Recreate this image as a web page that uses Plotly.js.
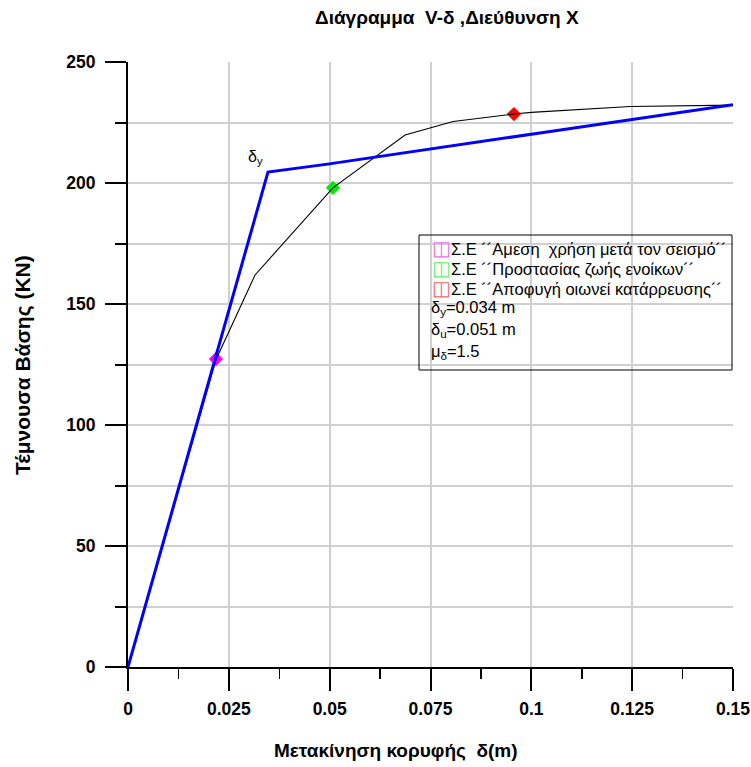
<!DOCTYPE html>
<html>
<head>
<meta charset="utf-8">
<script src="https://cdn.plot.ly/plotly-3.0.1.min.js"></script>
<style>html,body{margin:0;padding:0;background:#fff;}#chart{width:751px;height:767px;}</style>
</head>
<body>
<div id="chart"></div>
<script>
// Bilinear idealisation (blue)
const bilinearX = [0, 0.0347, 0.0495, 0.0515, 0.1, 0.1034, 0.15];
const bilinearY = [0, 204.5, 207.8, 208.3, 220.3, 221.0, 232.3];
// Pushover curve (black)
const pushoverX = [0, 0.0218, 0.0315, 0.0508, 0.0687, 0.0806, 0.0957, 0.1, 0.1245, 0.15];
const pushoverY = [0, 127.0, 162.0, 198.0, 219.8, 225.4, 228.5, 229.2, 231.6, 232.2];
// Performance levels
const levelNames = ["Σ.Ε ´´Αμεση  χρήση μετά τον σεισμό´´", "Σ.Ε ´´Προστασίας ζωής ενοίκων´´", "Σ.Ε ´´Αποφυγή οιωνεί κατάρρευσης´´"];
const levelX = [0.0218, 0.0508, 0.0957];
const levelY = [127.3, 198.0, 228.5];
const levelColors = ["#ff00ff", "#00ee00", "#ff0000"];
const iconColors = ["#f070f0", "#66ee66", "#f06a6a"];
const infoLines = ["δ<sub>y</sub>=0.034 m", "δ<sub>u</sub>=0.051 m", "μ<sub>δ</sub>=1.5"];
const xTickVals = [0, 0.025, 0.05, 0.075, 0.1, 0.125, 0.15];
const xTickText = ["0", "0.025", "0.05", "0.075", "0.1", "0.125", "0.15"];
const yTickVals = [0, 50, 100, 150, 200, 250];
const yTickText = ["0", "50", "100", "150", "200", "250"];

const FONT = "Liberation Sans, Arial, sans-serif";
const W = 751, H = 767, L = 128, R = 18, T = 62, B = 100;
const pw = W - L - R, ph = H - T - B;
const px = p => (p - L) / pw;
const py = p => (H - B - p) / ph;

const traces = [];
for (let i = 0; i < levelX.length; i++) {
  traces.push({x: [levelX[i]], y: [levelY[i]], type: "scatter", mode: "markers",
    marker: {symbol: "diamond", size: 11, color: levelColors[i]}, showlegend: false, hoverinfo: "skip"});
}
traces.push({x: pushoverX, y: pushoverY, type: "scatter", mode: "lines",
  line: {color: "#000000", width: 1.1}, showlegend: false});
traces.push({x: bilinearX, y: bilinearY, type: "scatter", mode: "lines",
  line: {color: "#0000ff", width: 3}, showlegend: false});

const annotations = [
  {text: "<b>Διάγραμμα  V-δ ,Διεύθυνση X</b>", xref: "paper", yref: "paper", x: px(447), y: py(18),
   xanchor: "center", yanchor: "middle", showarrow: false, font: {family: FONT, size: 19, color: "#000"}},
  {text: "<b>Μετακίνηση κορυφής  δ(m)</b>", xref: "paper", yref: "paper", x: px(396), y: py(750),
   xanchor: "center", yanchor: "middle", showarrow: false, font: {family: FONT, size: 19, color: "#000"}},
  {text: "<b>Τέμνουσα Βάσης (KN)</b>", xref: "paper", yref: "paper", x: px(23), y: py(365),
   xanchor: "center", yanchor: "middle", showarrow: false, textangle: -90, font: {family: FONT, size: 21, color: "#000"}},
  {text: "δ<sub>y</sub>", xref: "x", yref: "y", x: 0.0316, y: 210.5,
   xanchor: "center", yanchor: "middle", showarrow: false, font: {family: FONT, size: 16, color: "#000"}}
];
const lineY = [248, 268, 288, 308, 330, 352];
for (let i = 0; i < levelNames.length; i++) {
  annotations.push({text: "<span style='color:" + iconColors[i] + ";font-size:20px'>◫</span>" + levelNames[i],
    xref: "paper", yref: "paper", x: px(430), y: py(lineY[i]), xanchor: "left", yanchor: "middle",
    showarrow: false, font: {family: FONT, size: 16.5, color: "#000"}});
}
for (let j = 0; j < infoLines.length; j++) {
  annotations.push({text: infoLines[j], xref: "paper", yref: "paper", x: px(429), y: py(lineY[3 + j]),
    xanchor: "left", yanchor: "middle", showarrow: false, font: {family: FONT, size: 16.5, color: "#000"}});
}

const layout = {
  width: W, height: H,
  margin: {l: L, r: R, t: T, b: B, pad: 0},
  paper_bgcolor: "#fff", plot_bgcolor: "#fff",
  showlegend: false,
  font: {family: FONT, color: "#000"},
  xaxis: {range: [0, 0.15], tickvals: xTickVals, ticktext: xTickText,
    showgrid: true, gridcolor: "#d0d0d0", gridwidth: 2, zeroline: false,
    showline: true, linecolor: "#000", linewidth: 2,
    ticks: "outside", ticklen: 22, tickwidth: 2, tickcolor: "#000",
    tickfont: {family: FONT, size: 17.5, color: "#000", weight: "bold"}, ticklabelstandoff: 3,
    minor: {dtick: 0.0125, tick0: 0, ticks: "outside", ticklen: 10, tickwidth: 1.5, tickcolor: "#000", showgrid: false},
    fixedrange: true},
  yaxis: {range: [0, 250], tickvals: yTickVals, ticktext: yTickText,
    showgrid: true, gridcolor: "#d0d0d0", gridwidth: 2, zeroline: false,
    showline: true, linecolor: "#000", linewidth: 2,
    ticks: "outside", ticklen: 21, tickwidth: 2, tickcolor: "#000",
    tickfont: {family: FONT, size: 17.5, color: "#000", weight: "bold"}, ticklabelstandoff: 6,
    minor: {dtick: 25, tick0: 0, ticks: "outside", ticklen: 11, tickwidth: 2, tickcolor: "#000",
      showgrid: true, gridcolor: "#d0d0d0", gridwidth: 2},
    fixedrange: true},
  shapes: [
    {type: "rect", xref: "paper", yref: "paper", x0: px(419), x1: px(732), y0: py(370), y1: py(235),
     line: {color: "#000", width: 1}, fillcolor: "rgba(0,0,0,0)"}
  ],
  annotations: annotations
};

Plotly.newPlot("chart", traces, layout, {displayModeBar: false, staticPlot: true});
</script>
</body>
</html>
